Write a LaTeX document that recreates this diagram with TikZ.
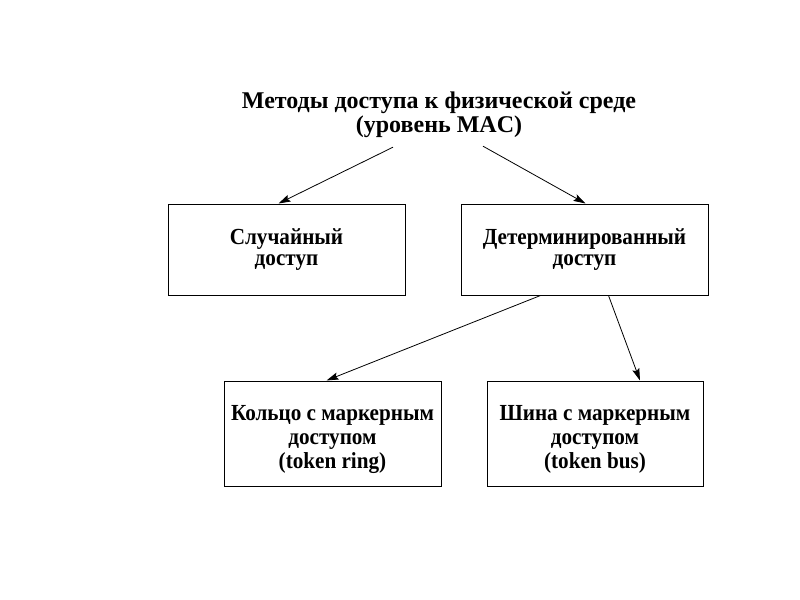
\documentclass[tikz,border=0pt]{standalone}
\usepackage{fontspec}
\setmainfont{Liberation Serif}
\newfontfamily\boxfont[FakeStretch=0.92]{Liberation Serif}
\usepackage{xcolor}
\usetikzlibrary{arrows.meta}
\definecolor{schemeink}{HTML}{000000}
\definecolor{schemepaper}{HTML}{FFFFFF}

\begin{document}
\begin{tikzpicture}[x=0.5pt, y=-0.5pt, >={Stealth[length=6pt, width=3.6pt, inset=1pt]},
                    every node/.style={schemeink, align=center},
                    methodbox/.style={draw=schemeink, line width=0.5pt, inner sep=0pt,
                                      font=\boxfont\bfseries\fontsize{11.5}{10.9}\selectfont},
                    boxtext/.style={inner sep=0pt,
                                    font=\boxfont\bfseries\fontsize{11.5}{11.8}\selectfont},
                    link/.style={schemeink, line width=0.4pt, ->}]

  %% холст 800x600, координаты в пикселях
  \useasboundingbox[fill=schemepaper] (0,0) rectangle (800,600);

  %% ---- заголовок ----
  \node[font=\bfseries\fontsize{12}{12.2}\selectfont] (title) at (439,115)
    {Методы доступа к физической среде\\(уровень MAC)};

  %% ---- первый уровень ----
  \node[methodbox, minimum width=118.5pt, minimum height=45.5pt] (random) at (286.5,249.5)
    {Случайный\\доступ};
  \node[methodbox, minimum width=123.5pt, minimum height=45.5pt] (determ) at (584.5,249.5)
    {Детерминированный\\доступ};

  %% ---- второй уровень: рамка и текст отдельно ----
  \node[methodbox, minimum width=108.5pt, minimum height=52.5pt] (ring) at (332.5,433.5) {};
  \node[boxtext] (ringtext) at ([yshift=-3pt]ring.center)
    {Кольцо с маркерным\\доступом\\(token ring)};
  \node[methodbox, minimum width=108pt, minimum height=52.5pt] (bus) at (595,433.5) {};
  \node[boxtext] (bustext) at ([yshift=-3pt]bus.center)
    {Шина с маркерным\\доступом\\(token bus)};

  %% ---- стрелки ----
  \draw[link] ([xshift=-23pt, yshift=-1pt]title.south) -- ([xshift=-4pt]random.north);
  \draw[link] ([xshift=22pt, yshift=-0.5pt]title.south) -- ([xshift=0.5pt]determ.north);
  \draw[link] ([xshift=-22pt]determ.south) -- ([xshift=-3pt]ring.north);
  \draw[link] ([xshift=12pt]determ.south) -- ([xshift=22.5pt]ring.north -| bus.north);

\end{tikzpicture}
\end{document}
